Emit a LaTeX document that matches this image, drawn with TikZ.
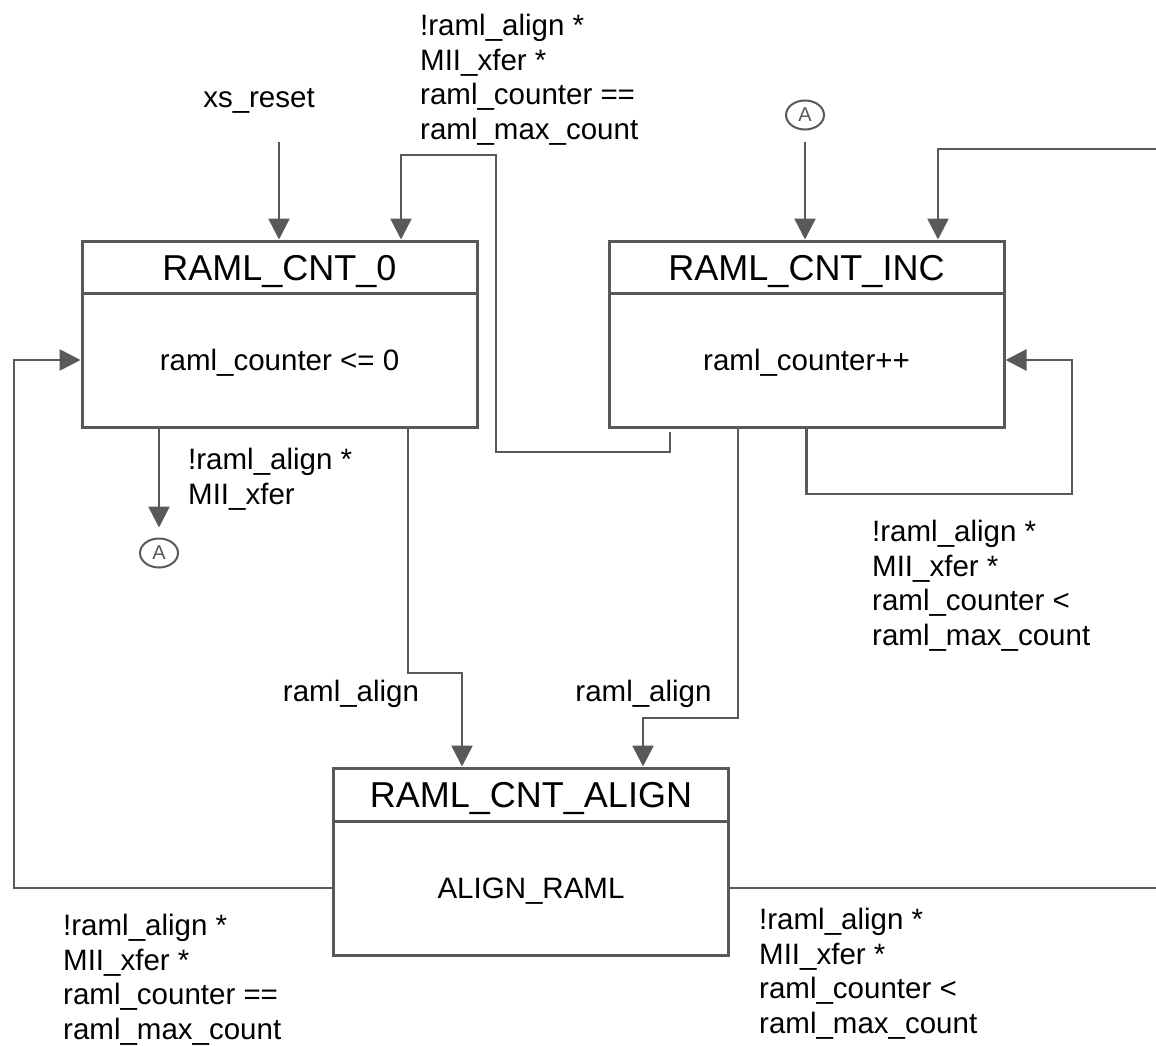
\documentclass[tikz,border=0pt]{standalone}
\usepackage{fontspec}
\setmainfont{Liberation Sans}
\usetikzlibrary{arrows.meta,shapes.geometric}
\definecolor{linegray}{RGB}{89,89,89}
\begin{document}
\begin{tikzpicture}[x=1pt,y=-1pt,
 lc/.style={draw=linegray, line width=2.6pt},
 arr/.style={lc, -{Triangle[length=21pt,width=21pt]}},
 hdr/.style={draw=linegray, line width=3pt, minimum width=395pt, minimum height=52pt, inner sep=0pt, text height=26pt, text depth=0pt, font=\fontsize{36}{40}\selectfont},
 bdy/.style={draw=linegray, line width=3pt, minimum width=395pt, minimum height=134pt, inner sep=0pt, text height=21pt, text depth=0pt, font=\fontsize{29.5}{34.5}\selectfont},
 lbl/.style={inner sep=0pt, align=left, font=\fontsize{29.5}{34.5}\selectfont, anchor=north west},
 slbl/.style={inner sep=0pt, font=\fontsize{29.5}{34.5}\selectfont, anchor=base},
 conn/.style={draw=linegray, line width=2pt, ellipse, minimum width=38pt, minimum height=29pt, inner sep=0pt, text=linegray, font=\fontsize{20}{20}\selectfont}]
\useasboundingbox[fill=white] (0,0) rectangle (1156,1046);

% states
\node[hdr] (c0h) at (279.5,267) {RAML\_CNT\_0};
\node[bdy] (c0) at (279.5,360) {raml\_counter <= 0};
\node[hdr] (ih) at (806.5,267) {RAML\_CNT\_INC};
\node[bdy] (inc) at (806.5,360) {raml\_counter++};
\node[hdr, minimum height=53pt] (ah) at (531,794.5) {RAML\_CNT\_ALIGN};
\node[bdy] (al) at (531,888) {ALIGN\_RAML};

% connectors A
\node[conn] (a1) at (159,553) {A};
\node[conn] (a2) at (805,115) {A};

% labels
\node[slbl] (lxs) at (259,108) {xs\_reset};
\node[lbl] (ltop) at (420,14) {!raml\_align *\\MII\_xfer *\\raml\_counter ==\\raml\_max\_count};
\node[lbl] (lc0a) at (188,448) {!raml\_align *\\MII\_xfer};
\node[lbl] (lself) at (872,520) {!raml\_align *\\MII\_xfer *\\raml\_counter <\\raml\_max\_count};
\node[lbl] (lbl1) at (63,914) {!raml\_align *\\MII\_xfer *\\raml\_counter ==\\raml\_max\_count};
\node[lbl] (lbr) at (759,908) {!raml\_align *\\MII\_xfer *\\raml\_counter <\\raml\_max\_count};
\node[slbl] (lra1) at (351,701) {raml\_align};
\node[slbl] (lra2) at (643.5,701) {raml\_align};

% transitions
\coordinate (xsr) at (279,142);
\draw[arr] (xsr) -- (xsr |- c0h.north);
\draw[arr] ([xshift=-136.5pt,yshift=-3pt]inc.south) |- (496,452) |- (401,155) -- ([xshift=121.5pt]c0h.north);
\draw[arr, shorten <=12pt] (a2.south) -- (a2 |- ih.north);
\draw[arr] (al.east) -- (1160,888) |- (938,149) -- ([xshift=131.5pt]ih.north);
\draw[arr] (inc.south) |- (1072,494) |- (inc.east);
\draw[arr] ([xshift=-68.5pt]inc.south) |- (643,718) -- ([xshift=112pt]ah.north);
\draw[arr] ([xshift=128.5pt]c0.south) |- (462,673) -- ([xshift=-69pt]ah.north);
\draw[arr, shorten >=10pt] (c0.south -| a1) -- (a1.north);
\draw[arr] (al.west) -- (14,888) |- (c0.west);
\end{tikzpicture}
\end{document}
